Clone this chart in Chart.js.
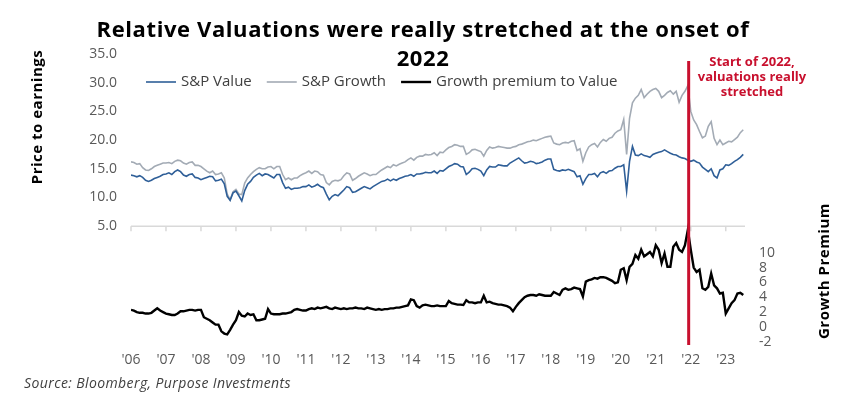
<!DOCTYPE html>
<html>
<head>
<meta charset="utf-8">
<script src="https://cdn.jsdelivr.net/npm/chart.js@4.4.1/dist/chart.umd.min.js"></script>
<style>
  html, body { margin: 0; padding: 0; background: #fff; }
  #wrap { position: relative; width: 852px; height: 404px; }
</style>
</head>
<body>
<div id="wrap"><canvas id="chart"></canvas></div>
<script>
// monthly readings, Jan 2006 .. Jul 2023
const startYear = 2006;
const yearTicks = [2006, 2007, 2008, 2009, 2010, 2011, 2012, 2013, 2014, 2015, 2016, 2017, 2018, 2019, 2020, 2021, 2022, 2023];
const peTicks = [5, 10, 15, 20, 25, 30, 35];
const premiumTicks = [-2, 0, 2, 4, 6, 8, 10];
const seriesLabels = ['S&P Value', 'S&P Growth', 'Growth premium to Value'];
const markerYear = 2021.94;

const spValue = [
  13.9, 13.8, 13.6, 13.8, 13.5, 13.0, 12.8, 13.0, 13.3, 13.5, 13.7, 14.0,
  14.1, 14.3, 14.0, 14.5, 14.8, 14.5, 13.9, 13.7, 14.0, 14.1, 13.5, 13.4,
  13.1, 13.3, 13.5, 13.7, 13.6, 12.9, 13.0, 13.2, 12.4, 10.2, 9.5, 10.8,
  11.1, 10.3, 9.4, 11.2, 12.3, 12.8, 13.5, 13.9, 14.2, 13.8, 14.1, 14.0,
  13.7, 13.4, 14.0, 14.0, 12.6, 11.6, 11.8, 11.4, 11.6, 11.6, 11.7, 11.9,
  11.9, 12.2, 11.8, 12.0, 12.3, 11.9, 11.7, 10.6, 9.6, 10.2, 10.5, 10.3,
  10.8, 11.3, 11.9, 11.7, 10.9, 11.0, 11.3, 11.6, 11.9, 11.7, 11.5, 11.9,
  12.2, 12.5, 12.8, 12.9, 13.2, 12.9, 13.2, 13.0, 13.3, 13.5, 13.7, 13.8,
  14.0, 13.7, 14.1, 14.1, 14.2, 14.4, 14.3, 14.3, 14.6, 14.2, 14.7, 14.6,
  15.0, 15.4, 15.6, 15.9, 15.8, 15.4, 15.3, 14.0, 14.4, 15.0, 15.1, 14.9,
  14.6, 13.8, 14.8, 15.4, 15.3, 15.3, 15.7, 15.6, 15.5, 15.5, 16.0, 16.3,
  16.6, 16.9, 16.4, 16.0, 16.1, 16.3, 16.2, 15.9, 16.0, 16.2, 16.5, 16.7,
  16.7, 14.9, 14.7, 14.6, 14.8, 14.7, 14.9, 14.7, 14.5, 13.6, 13.8, 12.3,
  13.3, 14.0, 14.0, 14.2, 13.6, 14.3, 14.5, 14.2, 14.6, 14.7, 15.1, 15.4,
  15.4, 15.7, 11.1, 16.3, 18.9, 17.4, 17.3, 17.6, 17.3, 17.2, 17.0, 17.5,
  17.7, 17.9, 18.0, 18.3, 18.0, 17.7, 17.5, 17.4, 17.1, 16.9, 16.8, 16.5,
  16.3, 16.5, 16.2, 16.0, 15.3, 14.9, 14.5, 15.0, 13.8, 13.4, 14.8, 15.0,
  15.7, 15.6, 15.9, 16.3, 16.6, 17.0, 17.5
];

const spGrowth = [
  16.2, 16.1, 15.8, 15.9, 15.2, 14.8, 14.7, 15.0, 15.4, 15.6, 15.8, 16.0,
  16.0, 16.1, 15.9, 16.3, 16.5, 16.4, 16.0, 15.8, 16.1, 16.2, 15.6, 15.6,
  15.4, 15.0, 14.6, 14.3, 14.6, 14.0, 14.1, 14.3, 13.4, 10.6, 9.6, 11.0,
  11.4, 10.6, 10.5, 12.5, 13.4, 14.0, 14.5, 14.9, 15.2, 15.0, 15.0, 15.3,
  15.4, 15.0, 15.4, 15.4, 14.0, 13.1, 13.4, 13.1, 13.4, 13.4, 13.8, 14.1,
  14.3, 14.6, 14.2, 14.6, 14.5, 14.0, 13.9, 12.6, 12.2, 12.8, 13.0, 12.9,
  13.1, 13.8, 14.3, 14.1, 13.0, 13.3, 13.7, 14.0, 14.3, 14.1, 13.8, 14.0,
  14.0, 14.4, 14.8, 15.1, 15.4, 15.2, 15.7, 15.5, 15.8, 16.0, 16.2, 16.6,
  16.9, 16.5, 17.0, 17.2, 17.2, 17.5, 17.4, 17.5, 17.8, 17.3, 17.9, 17.8,
  18.3, 18.7, 18.9, 19.2, 19.1, 18.9, 18.9, 17.5, 17.8, 18.3, 18.4, 18.2,
  18.0, 17.2, 18.2, 18.8, 18.6, 18.7, 18.9, 18.8, 18.7, 18.6, 18.6, 18.8,
  18.9, 19.2, 19.3, 19.5, 19.7, 19.8, 20.0, 19.9, 20.1, 20.3, 20.5, 20.6,
  20.7, 19.5, 19.3, 19.2, 19.5, 19.6, 19.5, 19.8, 19.9, 18.2, 18.5, 16.3,
  17.8, 18.8, 19.2, 19.4, 18.8, 19.6, 20.1, 19.8, 20.3, 20.5, 21.2, 21.6,
  21.8, 23.6, 17.5, 23.8, 26.5, 27.3, 27.8, 28.8, 27.4, 28.0, 28.5, 28.8,
  29.0, 28.5, 27.4, 27.8, 28.3, 28.6, 28.0, 28.5, 26.6, 27.8, 28.5, 29.5,
  25.0, 23.5, 22.7, 21.5, 20.4, 20.7, 22.4, 23.2, 20.3, 19.2, 20.0, 19.2,
  19.5, 19.8, 19.7, 20.1, 20.5, 21.3, 21.8
];

const growthPremium = [
  2.3, 2.2, 2.0, 1.9, 1.9, 1.8, 1.8, 1.9, 2.2, 2.5, 2.2, 2.0,
  1.8, 1.7, 1.6, 1.6, 1.8, 2.1, 2.1, 2.2, 2.3, 2.3, 2.2, 2.3,
  2.3, 1.3, 1.1, 0.9, 0.6, 0.3, 0.3, -0.6, -0.9, -1.0, -0.4, 0.3,
  0.9, 2.0, 1.5, 1.4, 1.8, 1.6, 1.7, 0.9, 0.9, 1.0, 1.1, 2.4,
  1.8, 1.7, 1.7, 1.7, 1.8, 1.8, 1.9, 2.0, 2.3, 2.4, 2.3, 2.2,
  2.2, 2.4, 2.5, 2.4, 2.6, 2.5, 2.6, 2.7, 2.5, 2.4, 2.6, 2.5,
  2.4, 2.5, 2.4, 2.5, 2.5, 2.6, 2.5, 2.5, 2.4, 2.6, 2.5, 2.4,
  2.3, 2.4, 2.3, 2.4, 2.4, 2.5, 2.5, 2.6, 2.6, 2.7, 2.8, 2.9,
  3.7, 3.6, 2.8, 2.6, 2.9, 3.0, 2.9, 2.8, 2.8, 2.9, 2.8, 2.8,
  2.8, 3.5, 3.2, 3.1, 3.0, 3.0, 2.95, 3.6, 3.3, 3.3, 3.2, 3.3,
  3.3, 4.2, 3.3, 3.4, 3.2, 3.1, 3.0, 3.0, 2.9, 2.8, 2.6, 2.1,
  2.7, 3.2, 3.6, 4.0, 4.2, 4.3, 4.3, 4.2, 4.4, 4.3, 4.2, 4.2,
  4.2, 4.7, 4.5, 4.3, 5.0, 5.2, 5.0, 5.1, 5.3, 5.2, 5.1, 4.1,
  6.1, 6.3, 6.4, 6.6, 6.5, 6.7, 6.7, 6.6, 6.4, 6.2, 5.9, 6.0,
  7.7, 7.9, 6.3, 8.1, 8.5, 9.7, 9.2, 10.4, 9.5, 9.8, 10.1, 9.5,
  11.0, 10.4, 8.6, 9.9, 8.1, 8.1, 10.8, 11.3, 10.4, 10.1, 11.0, 13.1,
  10.4, 8.0, 7.4, 7.7, 5.2, 5.0, 5.4, 7.2, 5.6, 5.2, 4.5, 4.6,
  1.8, 2.5, 3.2, 3.6, 4.5, 4.6, 4.3
];

const FONT = '"Open Sans", sans-serif';
const TEXT = '#404040';
const RED = '#C8102E';

Chart.defaults.font.family = FONT;
Chart.defaults.color = TEXT;

const toPoints = arr => arr.map((v, i) => ({ x: startYear + i / 12, y: v }));

// title, axis titles, legend, note, source
const overlay = {
  id: 'overlay',
  afterDraw (chart) {
    const ctx = chart.ctx;
    ctx.save();
    ctx.fillStyle = '#000';
    ctx.textAlign = 'center';
    ctx.textBaseline = 'middle';
    ctx.font = 'bold 22px ' + FONT;
    ctx.letterSpacing = '0.6px';
    ctx.fillText('Relative Valuations were really stretched at the onset of', 423, 31);
    ctx.fillText('2022', 423, 60);

    ctx.font = 'bold 15px ' + FONT;
    ctx.letterSpacing = '0.5px';
    ctx.save();
    ctx.translate(38, 117);
    ctx.rotate(-Math.PI / 2);
    ctx.fillText('Price to earnings', 0, 0);
    ctx.restore();
    ctx.save();
    ctx.translate(825, 271);
    ctx.rotate(-Math.PI / 2);
    ctx.fillText('Growth Premium', 0, 0);
    ctx.restore();

    ctx.letterSpacing = '0px';
    ctx.fillStyle = RED;
    ctx.font = 'bold 13px ' + FONT;
    ['Start of 2022,', 'valuations really', 'stretched'].forEach((t, i) => {
      ctx.fillText(t, 752, 62 + i * 15);
    });

    // legend
    ctx.textAlign = 'left';
    ctx.font = '15px ' + FONT;
    let x = 146;
    chart.data.datasets.forEach(ds => {
      ctx.strokeStyle = ds.borderColor;
      ctx.lineWidth = ds.borderWidth;
      ctx.beginPath();
      ctx.moveTo(x, 82);
      ctx.lineTo(x + 30, 82);
      ctx.stroke();
      ctx.fillStyle = TEXT;
      ctx.fillText(ds.label, x + 35, 82);
      x += 35 + ctx.measureText(ds.label).width + 15;
    });

    ctx.font = 'italic 14px ' + FONT;
    ctx.letterSpacing = '0.4px';
    ctx.fillStyle = TEXT;
    ctx.fillText('Source: Bloomberg, Purpose Investments', 24, 384);
    ctx.restore();
  }
};

// category axis line sits at 5.0 on the P/E scale
const baseLine = {
  id: 'baseLine',
  beforeDatasetsDraw (chart) {
    const { ctx, scales } = chart;
    const y = scales.y.getPixelForValue(5);
    ctx.save();
    ctx.strokeStyle = '#D9D9D9';
    ctx.lineWidth = 1.5;
    ctx.beginPath();
    ctx.moveTo(chart.chartArea.left, y);
    ctx.lineTo(chart.chartArea.right, y);
    yearTicks.forEach(yr => {
      const x = scales.x.getPixelForValue(yr);
      ctx.moveTo(x, y);
      ctx.lineTo(x, y + 5);
    });
    ctx.stroke();
    ctx.restore();
  }
};

const marker = {
  id: 'marker',
  afterDatasetsDraw (chart) {
    const { ctx, scales, chartArea } = chart;
    const x = scales.x.getPixelForValue(markerYear);
    ctx.save();
    ctx.strokeStyle = RED;
    ctx.lineWidth = 3;
    ctx.beginPath();
    ctx.moveTo(x, 61);
    ctx.lineTo(x, chartArea.bottom);
    ctx.stroke();
    ctx.restore();
  }
};

new Chart(document.getElementById('chart'), {
  type: 'line',
  data: {
    datasets: [
      {
        label: seriesLabels[0],
        data: toPoints(spValue),
        borderColor: '#2F5F98',
        borderWidth: 1.6,
        yAxisID: 'y'
      },
      {
        label: seriesLabels[1],
        data: toPoints(spGrowth),
        borderColor: '#A3ABB5',
        borderWidth: 1.6,
        yAxisID: 'y'
      },
      {
        label: seriesLabels[2],
        data: toPoints(growthPremium),
        borderColor: '#000000',
        borderWidth: 2.4,
        yAxisID: 'y1'
      }
    ]
  },
  options: {
    responsive: true,
    maintainAspectRatio: false,
    animation: false,
    layout: { padding: { top: 54, left: 0, right: 0, bottom: 0 } },
    elements: {
      point: { radius: 0 },
      line: { tension: 0 }
    },
    plugins: {
      legend: { display: false },
      title: { display: false },
      tooltip: { enabled: false }
    },
    scales: {
      x: {
        type: 'linear',
        min: 2006,
        max: 2023.55,
        grid: { display: false, drawTicks: false },
        border: { display: false },
        afterBuildTicks: s => { s.ticks = yearTicks.map(v => ({ value: v })); },
        afterFit: s => { s.height = 59; },
        ticks: {
          padding: 7,
          maxRotation: 0,
          autoSkip: false,
          color: '#595959',
          font: { size: 14 },
          callback: v => "'" + String(v).slice(2)
        }
      },
      y: {
        position: 'left',
        min: -15.7,
        max: 35,
        grid: { display: false, drawTicks: false },
        border: { display: false },
        afterBuildTicks: s => { s.ticks = peTicks.map(v => ({ value: v })); },
        afterFit: s => { s.width = 131; },
        ticks: {
          padding: 14,
          color: '#595959',
          font: { size: 14 },
          callback: v => v.toFixed(1)
        }
      },
      y1: {
        position: 'right',
        min: -2.44,
        max: 36.78,
        grid: { display: false, drawTicks: false },
        border: { display: false },
        afterBuildTicks: s => { s.ticks = premiumTicks.map(v => ({ value: v })); },
        afterFit: s => { s.width = 107; },
        ticks: {
          padding: 14,
          color: '#595959',
          font: { size: 14 },
          callback: v => String(v)
        }
      }
    }
  },
  plugins: [baseLine, marker, overlay]
});
</script>
</body>
</html>
